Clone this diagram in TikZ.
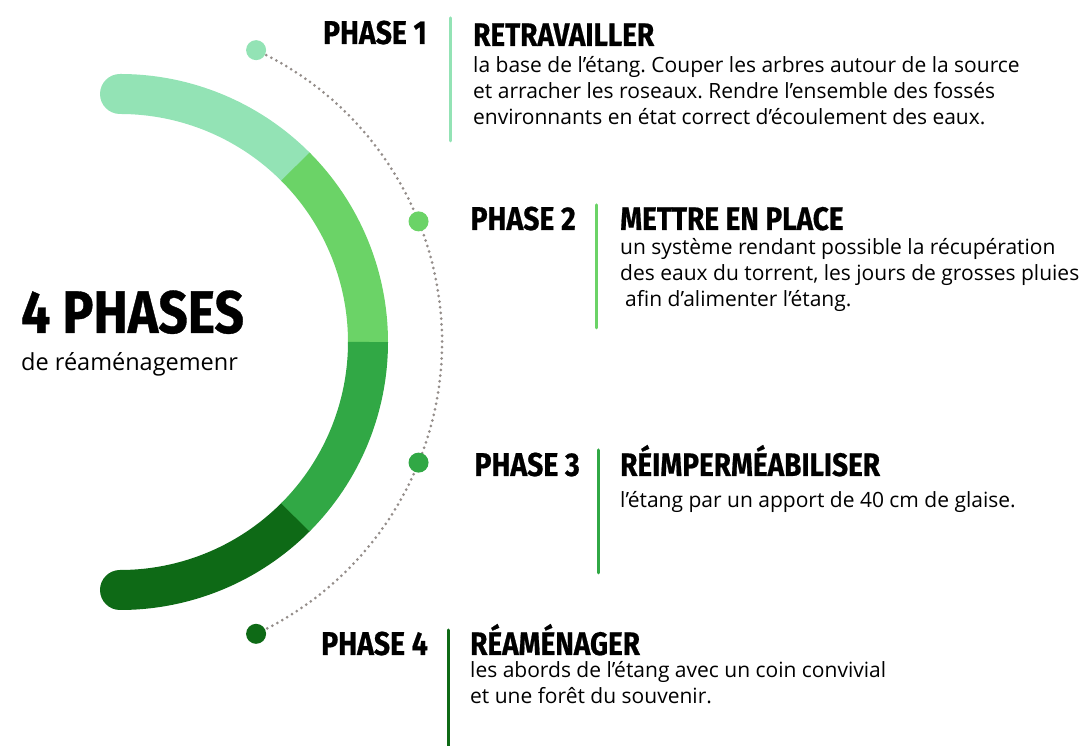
\documentclass[tikz,border=0pt]{standalone}
\usepackage{fontspec}
\setmainfont{Open Sans}
\newfontfamily\headfont{Fira Sans}[FakeStretch=0.86,FakeBold=0.6]
\usetikzlibrary{positioning}
\frenchspacing

\definecolor{phaseA}{HTML}{93E3B5}
\definecolor{phaseB}{HTML}{6BD367}
\definecolor{phaseC}{HTML}{31A845}
\definecolor{phaseD}{HTML}{0E6A16}
\definecolor{dotgray}{HTML}{948D8A}

\begin{document}
\begin{tikzpicture}[x=1pt,y=1pt,
  ring/.style={line width=40pt},
  dot/.style={circle,minimum size=20pt,inner sep=0pt},
  bar/.style={line width=3pt,line cap=round},
  phaselabel/.style={font=\headfont\bfseries\fontsize{33}{33}\selectfont,inner sep=0pt,anchor=base east},
  phasetitle/.style={font=\headfont\bfseries\fontsize{32.5}{33}\selectfont,inner sep=0pt,anchor=base west},
  phasetext/.style={font=\fontsize{21}{26}\selectfont,inner sep=0pt,anchor=north west,align=left}]
 \useasboundingbox (0,0) rectangle (1084,746);
 \coordinate (c) at (120,404);
 % ring
 \draw[ring,phaseA,line cap=round] ([shift={(90:248)}]c) arc (90:45:248);
 \draw[ring,phaseD,line cap=round] ([shift={(-45:248)}]c) arc (-45:-90:248);
 \draw[ring,phaseB] ([shift={(45:248)}]c) arc (45:-0.3:248);
 \draw[ring,phaseC] ([shift={(0:248)}]c) arc (0:-45:248);
 % dotted path
 \draw[dotgray,line width=3pt,line cap=round,dash pattern=on 0pt off 5.7pt] ([shift={(65:322)}]c) arc (65:-65:322);
 \node[dot,fill=phaseA] (d1) at ([shift={(65:322)}]c) {};
 \node[dot,fill=phaseB] (d2) at ([shift={(22:322)}]c) {};
 \node[dot,fill=phaseC] (d3) at ([shift={(-22:322)}]c) {};
 \node[dot,fill=phaseD] (d4) at ([shift={(-65:322)}]c) {};
 % centre
 \node[font=\headfont\bfseries\fontsize{60}{60}\selectfont,inner sep=0pt,anchor=base west] (head) at (21,413) {4 PHASES};
 \node[font=\fontsize{23.5}{23.5}\selectfont,inner sep=0pt,anchor=base west] (sub) at (21,375) {de réaménagemenr};
 % phase 1
 \draw[bar,phaseA] (450,728) -- (450,605);
 \node[phaselabel] (p1) at (427,702) {PHASE 1};
 \node[phasetitle] (t1) at (473,700) {RETRAVAILLER};
 \node[phasetext] (b1) at (473,692) {\strut la base de l’étang. Couper les arbres autour de la source\\et arracher les roseaux. Rendre l’ensemble des fossés\\environnants en état correct d’écoulement des eaux.};
 % phase 2
 \draw[bar,phaseB] (596,541) -- (596,418);
 \node[phaselabel] (p2) at (576,516) {PHASE 2};
 \node[phasetitle] (t2) at (620,516) {METTRE EN PLACE};
 \node[phasetext] (b2) at (620,510) {\strut un système rendant possible la récupération\\des eaux du torrent, les jours de grosses pluies\\\hspace*{5pt}afin d’alimenter l’étang.};
 % phase 3
 \draw[bar,phaseC] (598,296) -- (598,173);
 \node[phaselabel] (p3) at (580,270) {PHASE 3};
 \node[phasetitle] (t3) at (620,270) {RÉIMPERMÉABILISER};
 \node[phasetext] (b3) at (620,257) {\strut l’étang par un apport de 40 cm de glaise.};
 % phase 4
 \draw[bar,phaseD] (448,116) -- (448,-4);
 \node[phaselabel] (p4) at (428,91) {PHASE 4};
 \node[phasetitle] (t4) at (470,91) {RÉAMÉNAGER};
 \node[phasetext] (b4) at (470,87) {\strut les abords de l’étang avec un coin convivial\\et une forêt du souvenir.};
\end{tikzpicture}
\end{document}
